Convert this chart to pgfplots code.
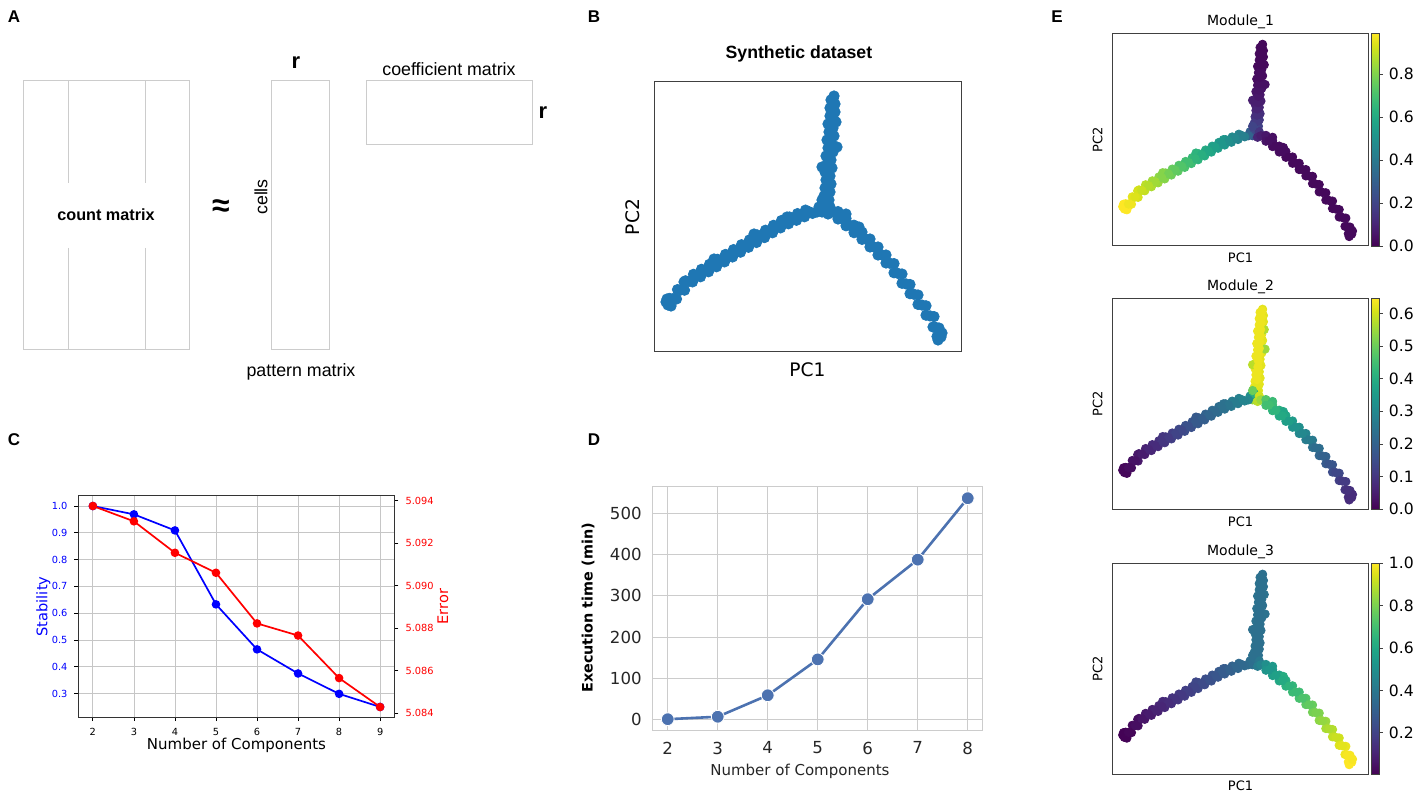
\documentclass[border=0pt]{standalone}
\usepackage{pgfplots}
\pgfplotsset{compat=1.18}
\usepackage{pgfplotstable}
\usepackage{fontspec}
\setmainfont{DejaVu Sans}
\newfontfamily\arial{Liberation Sans}
\definecolor{sbblue}{RGB}{76,114,176}
\definecolor{mplblue}{RGB}{31,119,180}
\definecolor{sbgrid}{RGB}{204,204,204}
\definecolor{sbtext}{RGB}{38,38,38}
\definecolor{boxgray}{RGB}{204,204,204}
\newcommand{\fs}[1]{\fontsize{#1}{#1}\selectfont}
\pgfplotsset{/pgf/number format/assume math mode=true}

% cells of the synthetic tree: position (B axis units) and module scores
\pgfplotstableread{
x y m1 m2 m3
168 140 0.25 0.55 0.37
174 144 0.23 0.58 0.37
169 148 0.21 0.60 0.38
175 152 0.19 0.61 0.37
170 156 0.18 0.62 0.38
176 160 0.16 0.62 0.37
171 164 0.14 0.63 0.38
177 168 0.13 0.62 0.37
172 172 0.11 0.63 0.38
176 176 0.10 0.62 0.37
171 180 0.09 0.63 0.38
178 184 0.08 0.62 0.37
173 188 0.07 0.63 0.38
177 192 0.06 0.62 0.37
172 196 0.05 0.63 0.38
179 200 0.05 0.62 0.37
174 204 0.04 0.63 0.38
178 208 0.04 0.62 0.37
173 212 0.03 0.63 0.38
180 216 0.03 0.62 0.37
175 220 0.03 0.63 0.38
179 224 0.03 0.62 0.37
174 228 0.02 0.63 0.38
180 232 0.02 0.62 0.37
176 236 0.02 0.63 0.38
181 240 0.02 0.62 0.37
176 244 0.02 0.63 0.38
181 248 0.02 0.62 0.37
177 252 0.02 0.63 0.38
180 256 0.02 0.62 0.37
183 205 0.04 0.55 0.38
168 185 0.08 0.58 0.37
182 230 0.02 0.57 0.38
171.6 142 0.24 0.58 0.37
172.2 150 0.20 0.61 0.37
172.7 158 0.17 0.62 0.37
173.3 166 0.13 0.63 0.37
173.8 174 0.10 0.63 0.37
174.4 182 0.08 0.63 0.37
174.9 190 0.06 0.63 0.37
175.4 198 0.05 0.63 0.37
176.0 206 0.04 0.63 0.37
176.5 214 0.03 0.63 0.37
177.1 222 0.03 0.63 0.37
177.6 230 0.02 0.63 0.37
178.2 238 0.02 0.63 0.37
178.7 246 0.02 0.63 0.37
179.3 254 0.02 0.63 0.37
165 145 0.30 0.32 0.36
170 148 0.22 0.40 0.37
176 145 0.15 0.60 0.40
168 152 0.20 0.50 0.37
174 138 0.10 0.58 0.42
178 140 0.08 0.55 0.45
163 140 0.32 0.30 0.36
158.5 138.6 0.42 0.29 0.35
151.5 141.9 0.44 0.28 0.34
150.5 135.2 0.45 0.27 0.33
143.5 138.4 0.47 0.27 0.32
142.5 131.7 0.48 0.26 0.31
135.5 135.0 0.50 0.25 0.30
134.5 128.2 0.52 0.24 0.29
127.5 131.5 0.53 0.23 0.28
126.5 124.1 0.55 0.23 0.27
119.5 126.7 0.56 0.22 0.26
118.5 119.2 0.58 0.21 0.25
111.5 121.8 0.60 0.20 0.24
110.5 114.4 0.61 0.19 0.23
103.5 117.0 0.63 0.19 0.23
102.5 109.5 0.64 0.18 0.22
95.5 112.1 0.66 0.17 0.21
94.5 104.7 0.68 0.16 0.20
87.5 107.3 0.69 0.16 0.19
86.5 99.8 0.71 0.15 0.18
79.5 102.4 0.72 0.14 0.17
78.5 95.0 0.74 0.13 0.16
71.5 97.6 0.76 0.12 0.15
70.5 90.1 0.77 0.12 0.14
63.5 92.7 0.79 0.11 0.13
62.5 85.2 0.81 0.10 0.12
55.5 87.7 0.82 0.09 0.11
54.5 80.2 0.84 0.08 0.10
47.5 82.7 0.85 0.08 0.09
46.5 75.2 0.87 0.07 0.08
39.5 77.7 0.89 0.06 0.07
38.5 70.1 0.90 0.05 0.06
31.5 71.2 0.92 0.05 0.05
30.5 61.8 0.93 0.04 0.04
23.5 62.4 0.95 0.03 0.03
22.5 53.0 0.97 0.02 0.02
15.5 53.6 0.98 0.01 0.01
14.0 47.0 0.99 0.01 0.01
12.0 50.0 0.99 0.01 0.01
17.0 46.0 0.99 0.01 0.01
13.0 53.0 0.99 0.01 0.01
133.0 135.0 0.52 0.24 0.29
100.0 118.0 0.64 0.18 0.22
60.0 93.0 0.81 0.10 0.12
30.0 70.0 0.93 0.04 0.04
155 140.3 0.43 0.29 0.34
147 136.8 0.46 0.27 0.33
139 133.4 0.49 0.25 0.31
131 129.9 0.52 0.24 0.29
123 125.4 0.56 0.22 0.27
115 120.5 0.59 0.21 0.25
107 115.7 0.62 0.19 0.23
99 110.8 0.65 0.18 0.21
91 106.0 0.69 0.16 0.19
83 101.1 0.72 0.14 0.17
75 96.3 0.75 0.13 0.15
67 91.4 0.78 0.11 0.13
59 86.5 0.81 0.10 0.11
51 81.5 0.85 0.08 0.10
43 76.5 0.88 0.07 0.08
35 70.7 0.91 0.05 0.06
27 62.1 0.94 0.03 0.04
19 53.3 0.97 0.02 0.02
184 140.4 0.06 0.47 0.50
184 133.0 0.05 0.45 0.52
192 133.6 0.04 0.44 0.54
192 126.2 0.03 0.42 0.56
200 126.8 0.03 0.41 0.58
200 119.3 0.03 0.39 0.60
208 119.9 0.03 0.38 0.62
208 112.6 0.02 0.36 0.64
216 113.0 0.02 0.35 0.66
216 105.0 0.02 0.33 0.68
224 105.0 0.02 0.32 0.69
224 97.0 0.02 0.30 0.71
232 97.0 0.02 0.29 0.73
232 89.0 0.02 0.27 0.75
240 88.4 0.02 0.26 0.77
240 79.2 0.02 0.24 0.79
248 78.0 0.02 0.23 0.81
248 68.7 0.02 0.21 0.83
256 67.5 0.02 0.20 0.85
256 58.3 0.02 0.18 0.87
264 57.0 0.02 0.17 0.89
264 47.6 0.02 0.15 0.91
272 46.2 0.02 0.14 0.93
272 36.8 0.02 0.12 0.95
280 35.4 0.02 0.11 0.97
279 25.0 0.02 0.10 0.98
285 24.0 0.02 0.09 0.99
283 15.5 0.02 0.08 1.00
287 15.0 0.02 0.08 1.00
284 12.0 0.02 0.08 1.00
288 19.0 0.02 0.08 0.99
192 138.0 0.04 0.44 0.54
205 125.0 0.03 0.38 0.62
188 133.3 0.04 0.45 0.53
196 126.5 0.03 0.42 0.57
204 119.6 0.03 0.39 0.61
212 112.8 0.02 0.36 0.65
220 105.0 0.02 0.33 0.68
228 97.0 0.02 0.30 0.72
236 88.7 0.02 0.27 0.76
244 78.6 0.02 0.23 0.80
252 68.1 0.02 0.20 0.84
260 57.7 0.02 0.17 0.88
268 46.9 0.02 0.14 0.92
276 36.1 0.02 0.11 0.96
282 24.5 0.02 0.09 0.99
}\cells

\pgfplotsset{
  scat/.style={scale only axis, anchor=south west,
    xmin=0, xmax=307, ymin=0, ymax=270,
    xtick=\empty, ytick=\empty,
    axis line style={black!75, line width=0.5pt}},
  emod/.style={scat, width=127.8pt,
    title style={at={(axis description cs:0.5,1.053)}, anchor=center, yshift=-6pt, font=\fs{7}},
    xlabel={PC1}, ylabel={PC2},
    xlabel style={at={(axis description cs:0.5,-0.057)}, anchor=center, font=\fs{6.5}},
    ylabel style={at={(axis description cs:-0.059,0.5)}, anchor=center, font=\fs{6.5}},
    colorbar, colormap name=viridis, point meta=explicit,
    colorbar style={scale only axis, at={(parent axis.north east)}, anchor=north west,
      xshift=-7.15pt, width=4.15pt,
      axis line style={black!75, line width=0.4pt},
      ytick pos=right, tick align=outside, major tick length=1.75pt,
      tick style={black!75, line width=0.4pt},
      yticklabel style={font=\fs{7.8}, xshift=-0.5pt,
        /pgf/number format/.cd, fixed, fixed zerofill, precision=1}}},
  escat/.style={scatter, only marks, mark=*, mark size=2.1pt,
    scatter/use mapped color={draw=mapped color, fill=mapped color}},
}

\begin{document}
\begin{tikzpicture}[x=0.5pt,y=0.5pt]
\path[use as bounding box] (0,0) rectangle (1416,797);
\coordinate (pB) at (654,445);
\coordinate (pC) at (78.5,80);
\coordinate (pD) at (652.7,66.3);
\coordinate (pE1) at (1112.7,551);
\coordinate (pE2) at (1112.7,287.7);
\coordinate (pE3) at (1112.7,23);

% panel letters
\begin{scope}[font=\arial\bfseries\fs{8.5}]
\node at (14,780) {A};
\node at (594,780) {B};
\node at (14,357) {C};
\node at (594,357) {D};
\node at (1057,780) {E};
\end{scope}

% A: factorisation sketch
\begin{scope}[boxgray, line width=0.5pt]
\draw (23,716) rectangle (189,447);
\draw (68,716) -- (68,614) (68,549) -- (68,447);
\draw (145,716) -- (145,614) (145,549) -- (145,447);
\draw (271,716) rectangle (329,447);
\draw (366,716) rectangle (532,652);
\end{scope}
\node[font=\arial\bfseries\fs{8.1}] at (106,582) {count matrix};
\node[font=\arial\bfseries\fs{16}] at (221,589) {≈};
\node[rotate=90, font=\arial\fs{8.9}] at (261,600) {cells};
\node[font=\arial\bfseries\fs{11}] at (296,734) {r};
\node[font=\arial\fs{8.9}] at (301,425) {pattern matrix};
\node[font=\arial\fs{8.9}] at (449,728) {coefficient matrix};
\node[font=\arial\bfseries\fs{11}] at (543,684) {r};

% B: synthetic dataset
\begin{axis}[scat, at={(pB)}, width=153.5pt, height=135pt,
  title={Synthetic dataset},
  title style={at={(axis description cs:0.472,1.104)}, anchor=center, yshift=-6pt, font=\arial\bfseries\fs{8.85}},
  xlabel={PC1}, ylabel={PC2},
  xlabel style={at={(axis description cs:0.5,-0.067)}, anchor=center, font=\fs{9.3}},
  ylabel style={at={(axis description cs:-0.068,0.5)}, anchor=center, font=\fs{9.3}}]
\addplot[only marks, mark=*, mark size=2.6pt, color=mplblue] table[x=x, y=y] {\cells};
\end{axis}

% C: stability and error
\begin{axis}[at={(pC)}, anchor=south west, scale only axis, width=158pt, height=110.5pt,
  xmin=1.65, xmax=9.35, ymin=0.2125, ymax=1.0375,
  xtick={2,3,4,5,6,7,8,9}, ytick={0.3,0.4,0.5,0.6,0.7,0.8,0.9,1.0},
  xtick pos=left, ytick pos=left, tick align=outside, major tick length=2pt,
  tick style={black, line width=0.4pt},
  axis line style={black!80, line width=0.5pt},
  grid=major, grid style={gray!45, line width=0.4pt},
  ticklabel style={font=\fs{4.9}},
  yticklabel style={blue, /pgf/number format/.cd, fixed, fixed zerofill, precision=1},
  ylabel={Stability}, xlabel={Number of Components},
  ylabel style={at={(axis description cs:-0.111,0.5)}, anchor=center, blue, font=\fs{7.3}},
  xlabel style={at={(axis description cs:0.5,-0.127)}, anchor=center, font=\fs{7.5}}]
\addplot[blue, line width=0.85pt, mark=*, mark size=1.7pt] coordinates {
  (2,1.000) (3,0.969) (4,0.909) (5,0.633) (6,0.465) (7,0.375) (8,0.299) (9,0.250)};
\end{axis}
\begin{axis}[at={(pC)}, anchor=south west, scale only axis, width=158pt, height=110.5pt,
  xmin=1.65, xmax=9.35, ymin=5083.83, ymax=5094.22,
  hide x axis, axis y line*=right,
  ytick={5084,5086,5088,5090,5092,5094},
  yticklabels={5.084,5.086,5.088,5.090,5.092,5.094},
  tick align=outside, major tick length=2pt,
  tick style={black, line width=0.4pt},
  axis line style={black!80, line width=0.5pt},
  yticklabel style={red, font=\fs{4.9}},
  ylabel={Error},
  ylabel style={at={(axis description cs:1.153,0.5)}, anchor=center, red, font=\fs{7.3}}]
\addplot[red, line width=0.85pt, mark=*, mark size=1.7pt] coordinates {
  (2,5093.75) (3,5093.03) (4,5091.55) (5,5090.61) (6,5088.23) (7,5087.66) (8,5085.66) (9,5084.30)};
\node[font=\fs{4.9}, anchor=south east] at (axis description cs:1,1) {1e6};
\end{axis}

% D: execution time
\begin{axis}[at={(pD)}, anchor=south west, scale only axis, width=165pt, height=122pt,
  xmin=1.7, xmax=8.3, ymin=-26.9, ymax=564.9,
  xtick={2,3,4,5,6,7,8}, ytick={0,100,200,300,400,500},
  major tick length=0pt,
  axis line style={sbgrid, line width=0.7pt},
  grid=major, grid style={sbgrid, line width=0.5pt},
  ticklabel style={font=\fs{8.3}, sbtext},
  xticklabel style={yshift=-2pt}, yticklabel style={xshift=-2pt},
  ylabel={Execution time (min)}, xlabel={Number of Components},
  ylabel style={at={(axis description cs:-0.196,0.503)}, anchor=center, font=\bfseries\fs{7.2}},
  xlabel style={at={(axis description cs:0.446,-0.165)}, anchor=center, font=\fs{7.5}, sbtext}]
\addplot[sbblue, line width=1.3pt, mark=*, mark size=3.2pt,
  mark options={fill=sbblue, draw=white, line width=0.4pt}] coordinates {
  (2,1) (3,7) (4,59) (5,146) (6,292) (7,388) (8,537)};
\end{axis}

% E: module scores
\begin{axis}[emod, at={(pE1)}, height=106.35pt, title={Module\_1},
  point meta min=0, point meta max=0.99,
  colorbar style={ytick={0,0.2,0.4,0.6,0.8}}]
\addplot[escat] table[x=x, y=y, meta=m1] {\cells};
\end{axis}
\begin{axis}[emod, at={(pE2)}, height=105.5pt, title={Module\_2},
  point meta min=0, point meta max=0.646,
  colorbar style={ytick={0,0.1,0.2,0.3,0.4,0.5,0.6}}]
\addplot[escat] table[x=x, y=y, meta=m2] {\cells};
\end{axis}
\begin{axis}[emod, at={(pE3)}, height=105.35pt, title={Module\_3},
  point meta min=0.005, point meta max=1.0,
  colorbar style={ytick={0.2,0.4,0.6,0.8,1.0}}]
\addplot[escat] table[x=x, y=y, meta=m3] {\cells};
\end{axis}
\end{tikzpicture}
\end{document}
